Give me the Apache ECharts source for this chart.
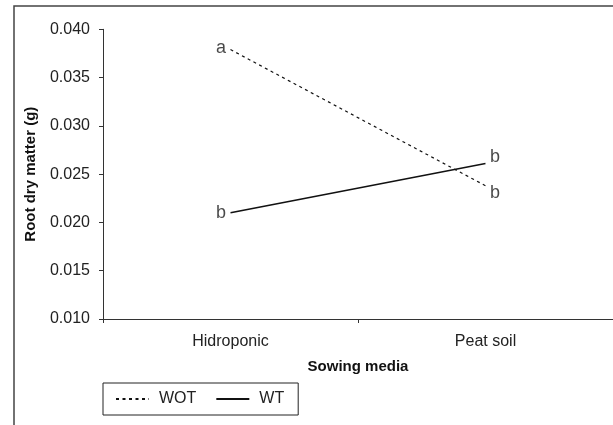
<!DOCTYPE html>
<html>
<head>
<meta charset="utf-8">
<script src="https://cdn.jsdelivr.net/npm/echarts@6/dist/echarts.min.js"></script>
<style>
html,body{margin:0;padding:0;background:#fff;}
#chart{width:613px;height:425px;}
</style>
</head>
<body>
<div id="chart"></div>
<script>
var categories = ['Hidroponic', 'Peat soil'];
var seriesNames = ['WOT', 'WT'];
var wotValues = [0.0379, 0.0238];
var wtValues = [0.0210, 0.0261];
var wotLetters = ['a', 'b'];
var wtLetters = ['b', 'b'];
var yTicks = [0.010, 0.015, 0.020, 0.025, 0.030, 0.035, 0.040];

var FONT = '"Liberation Sans", Arial, sans-serif';

function buildLabelData(values, letters, offsets, positions) {
  return values.map(function (v, i) {
    return {
      value: v,
      label: {
        show: true,
        formatter: letters[i],
        position: positions[i],
        offset: offsets[i],
        distance: 4,
        color: '#1a1a1a',
        fontFamily: FONT,
        fontSize: 18
      }
    };
  });
}

var chart = echarts.init(document.getElementById('chart'), null, {renderer: 'canvas'});
chart.setOption({
  animation: false,
  backgroundColor: '#fff',
  graphic: [{
    type: 'rect',
    shape: {x: 14, y: 6, width: 700, height: 500},
    style: {fill: 'none', stroke: '#444', lineWidth: 1.5},
    silent: true,
    z: -1
  }],
  grid: {left: 103, right: 0, top: 29.3, bottom: 106, containLabel: false},
  legend: {
    left: 103,
    top: 383,
    orient: 'horizontal',
    data: seriesNames,
    itemWidth: 33,
    itemHeight: 14,
    itemGap: 19,
    padding: [8, 14, 8, 12],
    borderColor: '#222',
    borderWidth: 1,
    itemStyle: {opacity: 0, borderWidth: 0},
    textStyle: {fontFamily: FONT, fontSize: 16, color: '#222', padding: [0, 0, 0, 5]}
  },
  xAxis: {
    type: 'category',
    data: categories,
    boundaryGap: true,
    name: 'Sowing media',
    nameLocation: 'middle',
    nameGap: 40,
    nameTextStyle: {fontFamily: FONT, fontSize: 15, fontWeight: 'bold', color: '#111'},
    axisLine: {lineStyle: {color: '#333', width: 1}},
    axisTick: {show: true, length: 4, lineStyle: {color: '#333'}},
    axisLabel: {fontFamily: FONT, fontSize: 16, color: '#222', margin: 15}
  },
  yAxis: {
    type: 'value',
    min: yTicks[0],
    max: yTicks[yTicks.length - 1],
    interval: 0.005,
    name: 'Root dry matter (g)',
    nameLocation: 'middle',
    nameGap: 65,
    nameTextStyle: {fontFamily: FONT, fontSize: 15, fontWeight: 'bold', color: '#111'},
    splitLine: {show: false},
    axisLine: {show: true, lineStyle: {color: '#333', width: 1}},
    axisTick: {show: true, length: 4, lineStyle: {color: '#333'}},
    axisLabel: {
      fontFamily: FONT, fontSize: 16, color: '#222', margin: 13,
      formatter: function (v) { return v.toFixed(3); }
    }
  },
  series: [
    {
      name: seriesNames[0],
      type: 'line',
      symbol: 'none',
      color: '#111',
      lineStyle: {color: '#111', width: 1.2, type: [3, 3.5]},
      data: wotValues
    },
    {
      name: seriesNames[1],
      type: 'line',
      symbol: 'none',
      color: '#111',
      lineStyle: {color: '#111', width: 1.5, type: 'solid'},
      data: wtValues
    },
    {
      name: 'WOT letters',
      type: 'scatter',
      symbolSize: 1,
      silent: true,
      itemStyle: {color: 'rgba(0,0,0,0)'},
      data: buildLabelData(wotValues, wotLetters, [[0, -2], [0, 7]], ['left', 'right'])
    },
    {
      name: 'WT letters',
      type: 'scatter',
      symbolSize: 1,
      silent: true,
      itemStyle: {color: 'rgba(0,0,0,0)'},
      data: buildLabelData(wtValues, wtLetters, [[0, 0], [0, -6]], ['left', 'right'])
    }
  ]
});
</script>
</body>
</html>
